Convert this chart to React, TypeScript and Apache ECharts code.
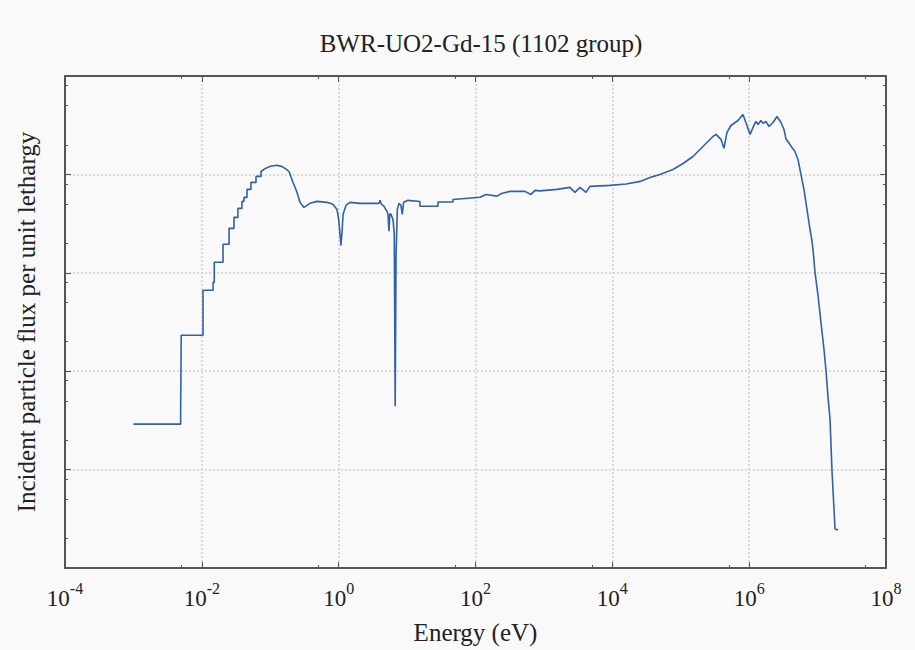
import React, { useEffect, useRef } from "react";
import * as echarts from "echarts";

const chartTitle = "BWR-UO2-Gd-15 (1102 group)";
const xTitle = "Energy (eV)";
const yTitle = "Incident particle flux per unit lethargy";

const energy = [
  1.0e-3, 4.9e-3, 4.9e-3, 5.0e-3, 5.0e-3, 1.04e-2, 1.04e-2, 1.46e-2, 1.46e-2, 1.52e-2,
  1.52e-2, 2.04e-2, 2.04e-2, 2.5e-2, 2.5e-2, 2.95e-2, 2.95e-2, 3.37e-2, 3.37e-2, 3.86e-2,
  3.86e-2, 4.13e-2, 4.13e-2, 4.57e-2, 4.57e-2, 5.22e-2, 5.22e-2, 6.19e-2, 6.19e-2, 7.33e-2,
  7.33e-2, 8.5e-2, 0.1, 0.126, 0.15, 0.175, 0.19, 0.2, 0.215, 0.23,
  0.246, 0.26, 0.272, 0.311, 0.381, 0.482, 0.675, 0.826, 0.944, 1.0,
  1.05, 1.08, 1.12, 1.16, 1.28, 1.46, 2.05, 3.9, 4.02, 4.2,
  4.59, 5.1, 5.26, 5.43, 5.6, 5.82, 6.22, 6.5, 6.7, 6.9,
  7.2, 7.62, 8.14, 8.5, 8.9, 10.3, 15.4, 15.4, 28.3, 28.3,
  46.9, 46.9, 116, 142, 206, 240, 319, 528, 647, 740,
  875, 1550, 2400, 2840, 3370, 4120, 4710, 9230, 1.6e4, 2.54e4, 3.55e4,
  4.97e4, 7.7e4, 1.08e5, 1.51e5, 2.11e5, 2.96e5, 3.27e5, 3.87e5, 4.28e5, 4.74e5,
  5.42e5, 6.86e5, 8.11e5, 9.29e5, 1.03e6, 1.17e6, 1.26e6, 1.35e6, 1.49e6, 1.59e6,
  1.76e6, 1.95e6, 2.23e6, 2.55e6, 2.92e6, 3.23e6, 3.45e6, 4.23e6, 4.67e6, 5.17e6,
  5.71e6, 6.32e6, 7.0e6, 7.74e6, 8.2e6, 8.57e6, 9.17e6, 1.01e7, 1.12e7, 1.24e7, 1.33e7,
  1.42e7, 1.52e7, 1.62e7, 1.8e7, 1.99e7,
];

const flux = [
  0.029, 0.029, 0.039, 0.039, 0.232, 0.232, 0.664, 0.664, 0.8, 0.8,
  1.28, 1.28, 1.95, 1.95, 2.83, 2.83, 3.66, 3.66, 4.52, 4.52,
  5.32, 5.32, 5.84, 5.84, 7.04, 7.04, 8.29, 8.29, 9.54, 9.54,
  10.7, 11.5, 12.1, 12.4, 12.0, 11.2, 10.5, 9.5, 8.3, 7.4,
  6.56, 5.8, 5.2, 4.62, 5.08, 5.32, 5.2, 4.96, 4.41, 3.49,
  2.4, 1.9, 2.6, 3.93, 4.84, 5.2, 5.08, 5.08, 5.45, 5.0,
  4.73, 4.2, 3.93, 2.64, 4.0, 3.93, 3.49, 2.5, 0.0441, 1.5,
  4.41, 5.08, 4.84, 3.93, 5.2, 5.45, 5.3, 4.75, 4.75, 5.25,
  5.25, 5.55, 5.85, 6.26, 6.02, 6.4, 6.72, 6.72, 6.26, 6.88,
  6.8, 7.04, 7.38, 6.56, 7.38, 6.56, 7.55, 7.73, 8.0, 8.49, 9.3,
  10.0, 11.2, 12.9, 15.2, 19.2, 24.3, 25.5, 22.7, 18.4, 26.7,
  31.4, 35.3, 40.6, 31.4, 25.5, 31.4, 34.5, 32.2, 35.3, 33.0,
  34.5, 30.7, 33.7, 38.8, 33.7, 28.6, 23.0, 18.8, 17.1, 14.2,
  10.0, 7.04, 4.41, 2.77, 2.2, 1.73, 1.01, 0.605, 0.314, 0.167, 0.1,
  0.0545, 0.0326, 0.0101, 0.00249, 0.00243,
];

const xMin = 1e-4;
const xMax = 1e8;
const yMin = 1e-3;
const yMax = 1e2;
const yMinorTicks = [
  0.002, 0.005, 0.008, 0.02, 0.05, 0.08, 0.2, 0.5, 0.8, 2, 5, 8, 20, 50, 80,
];
const yMajorTicks = [0.01, 0.1, 1, 10];

const FONT = "Liberation Serif";
const FRAME = "#555555";
const TEXT = "#222222";

export default function App() {
  const ref = useRef<HTMLDivElement>(null);

  useEffect(() => {
    if (!ref.current) return;
    const chart = echarts.init(ref.current, null, { renderer: "svg" });
    const data = energy.map((e, i) => [e, flux[i]]);

    const xCommon = {
      type: "log" as const,
      logBase: 100,
      min: xMin,
      max: xMax,
      splitNumber: 6,
      axisLine: { show: true, onZero: false, lineStyle: { color: FRAME, width: 2 } },
      axisTick: { show: true, inside: true, length: 6, lineStyle: { color: FRAME, width: 1 } },
      minorTick: { show: true, splitNumber: 2, length: 3, lineStyle: { color: FRAME, width: 1 } },
    };

    const yBase = (position: "left" | "right", major: boolean, withName: boolean) => ({
      type: "log" as const,
      logBase: 10,
      min: yMin,
      max: yMax,
      position,
      name: withName ? yTitle : "",
      nameLocation: "middle" as const,
      nameGap: 26,
      nameTextStyle: { fontFamily: FONT, fontSize: 25, color: TEXT },
      axisLine: { show: major, onZero: false, lineStyle: { color: FRAME, width: 2 } },
      axisLabel: { show: false },
      axisTick: {
        show: true,
        inside: true,
        length: major ? 6 : 3,
        customValues: major ? yMajorTicks : yMinorTicks,
        lineStyle: { color: FRAME, width: 1 },
      },
      splitLine: {
        show: major && position === "left",
        lineStyle: { color: "#cfcfcf", type: [2, 2], width: 1.5 },
      },
    });

    chart.setOption({
      animation: false,
      backgroundColor: "#f9f9f9",
      title: {
        text: chartTitle,
        left: 476,
        top: 26,
        textAlign: "center",
        textStyle: { fontFamily: FONT, fontSize: 25, fontWeight: "normal", color: TEXT },
      },
      grid: { left: 65, right: 29, top: 76, bottom: 81, containLabel: false },
      xAxis: [
        {
          ...xCommon,
          position: "bottom",
          name: xTitle,
          nameLocation: "middle",
          nameGap: 52,
          nameTextStyle: { fontFamily: FONT, fontSize: 25, color: TEXT },
          axisLabel: {
            show: true,
            margin: 12,
            formatter: (v: number) => {
              const p = Math.round(Math.log10(v));
              return `{b|10}{s|${p}}`;
            },
            rich: {
              b: { fontFamily: FONT, fontSize: 23, color: TEXT, verticalAlign: "bottom", lineHeight: 30 },
              s: { fontFamily: FONT, fontSize: 16, color: TEXT, verticalAlign: "top", lineHeight: 30 },
            },
          },
          splitLine: { show: true, lineStyle: { color: "#cfcfcf", type: [2, 2], width: 1.5 } },
        },
        {
          ...xCommon,
          position: "top",
          axisLabel: { show: false },
          splitLine: { show: false },
        },
      ],
      yAxis: [
        yBase("left", true, true),
        yBase("left", false, false),
        yBase("right", true, false),
        yBase("right", false, false),
      ],
      series: [
        {
          type: "line",
          xAxisIndex: 0,
          yAxisIndex: 0,
          data,
          showSymbol: false,
          symbol: "none",
          lineStyle: { color: "#2f62a8", width: 1.6 },
        },
      ],
    });

    return () => chart.dispose();
  }, []);

  return (
    <div
      ref={ref}
      style={{ position: "fixed", left: 0, top: 0, width: 915, height: 650 }}
    />
  );
}
